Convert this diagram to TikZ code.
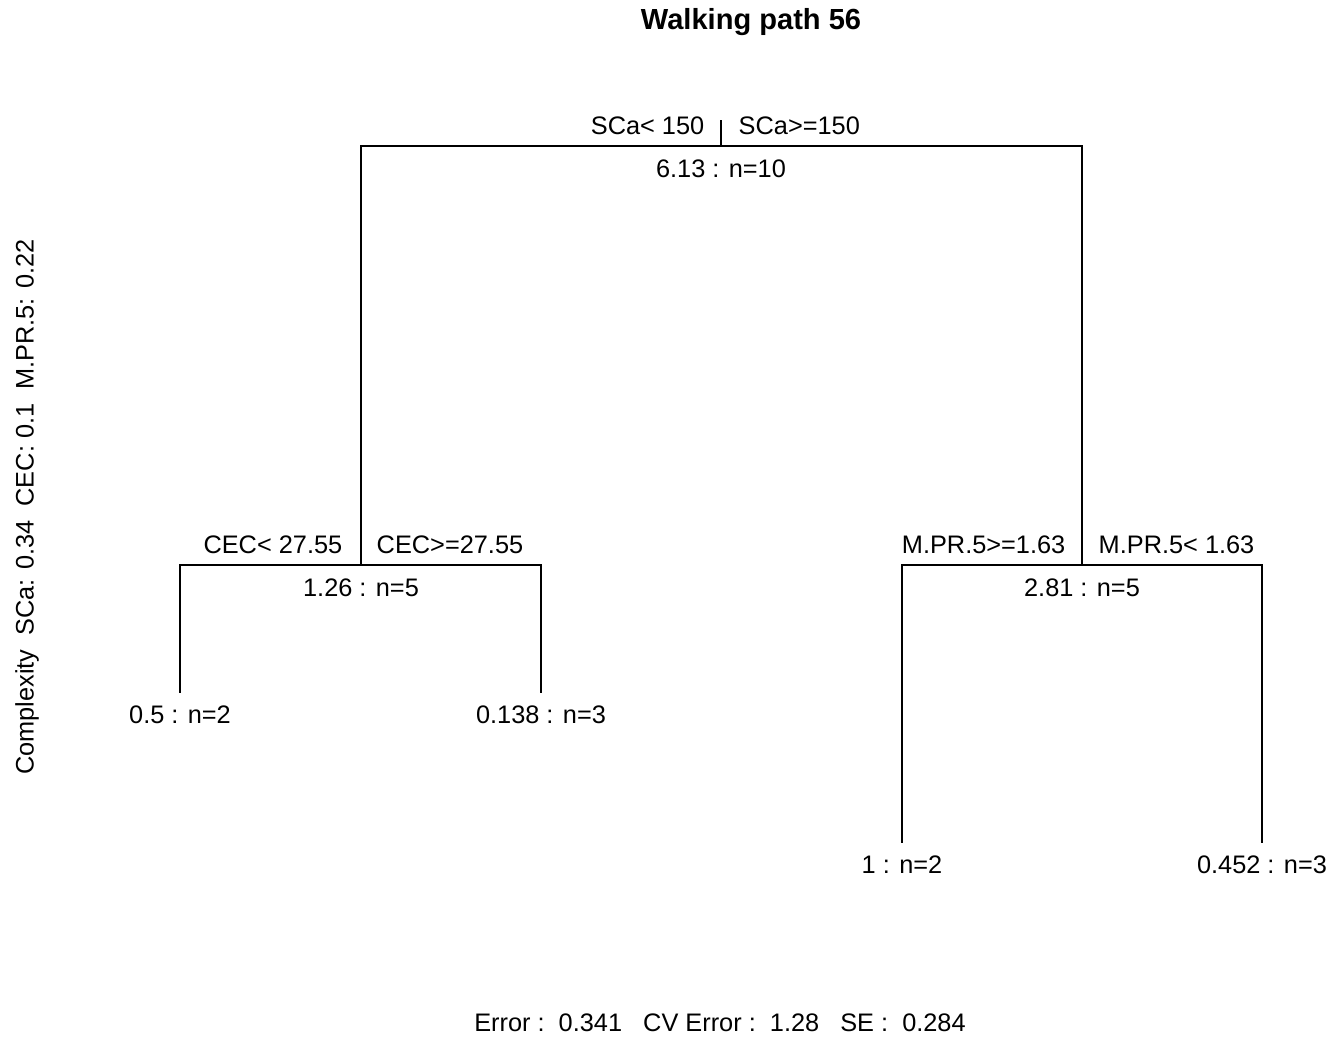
\documentclass[tikz,border=0pt]{standalone}
\usepackage{fontspec}
\setmainfont{Liberation Sans}

\begin{document}
\begin{tikzpicture}[x=0.75pt, y=-0.75pt, line width=1.1pt,
  every node/.style={font=\fontsize{19}{22}\selectfont, inner sep=0pt},
  leaf/.style={outer ysep=10pt}]

\useasboundingbox (0,0) rectangle (1332,1039);

% Title
\node[font=\fontsize{21.8}{26}\selectfont\bfseries] (title) at (751,22) {Walking path 56};

% Split points
\coordinate (top) at (721,120);
\coordinate (root) at (721,146);
\coordinate (cec) at (361,565);
\coordinate (mpr) at (1082,565);

% Leaves
\node[leaf] (lowA) at (180,715) {0.5 : n=2};
\node[leaf] (lowB) at (541,715) {0.138 : n=3};
\node[leaf] (highA) at (902,865) {1 : n=2};
\node[leaf] (highB) at (1262,865) {0.452 : n=3};

% Branches
\draw (top) -- (root);
\draw (cec) |- (root) -| (mpr);
\draw (lowA) |- (cec) -| (lowB);
\draw (highA) |- (mpr) -| (highB);

% Split labels
\node[anchor=east] (scaL) at (705,126) {SCa< 150};
\node[anchor=west] (scaR) at (738,126) {SCa>=150};
\node (rootval) at (721,169) {6.13 : n=10};

\node[anchor=east] (cecL) at (343,545) {CEC< 27.55};
\node[anchor=west] (cecR) at (376,545) {CEC>=27.55};
\node (cecval) at (361,588) {1.26 : n=5};

\node[anchor=east] (mprL) at (1066,545) {M.PR.5>=1.63};
\node[anchor=west] (mprR) at (1098,545) {M.PR.5< 1.63};
\node (mprval) at (1082,588) {2.81 : n=5};

% Margins
\node[rotate=90] (cplx) at (27,507) {Complexity\ \ SCa: 0.34\ \ CEC: 0.1\ \ M.PR.5: 0.22};
\node (errs) at (720,1023) {Error :\ \ 0.341\ \ \ CV Error :\ \ 1.28\ \ \ SE :\ \ 0.284};

\end{tikzpicture}
\end{document}
